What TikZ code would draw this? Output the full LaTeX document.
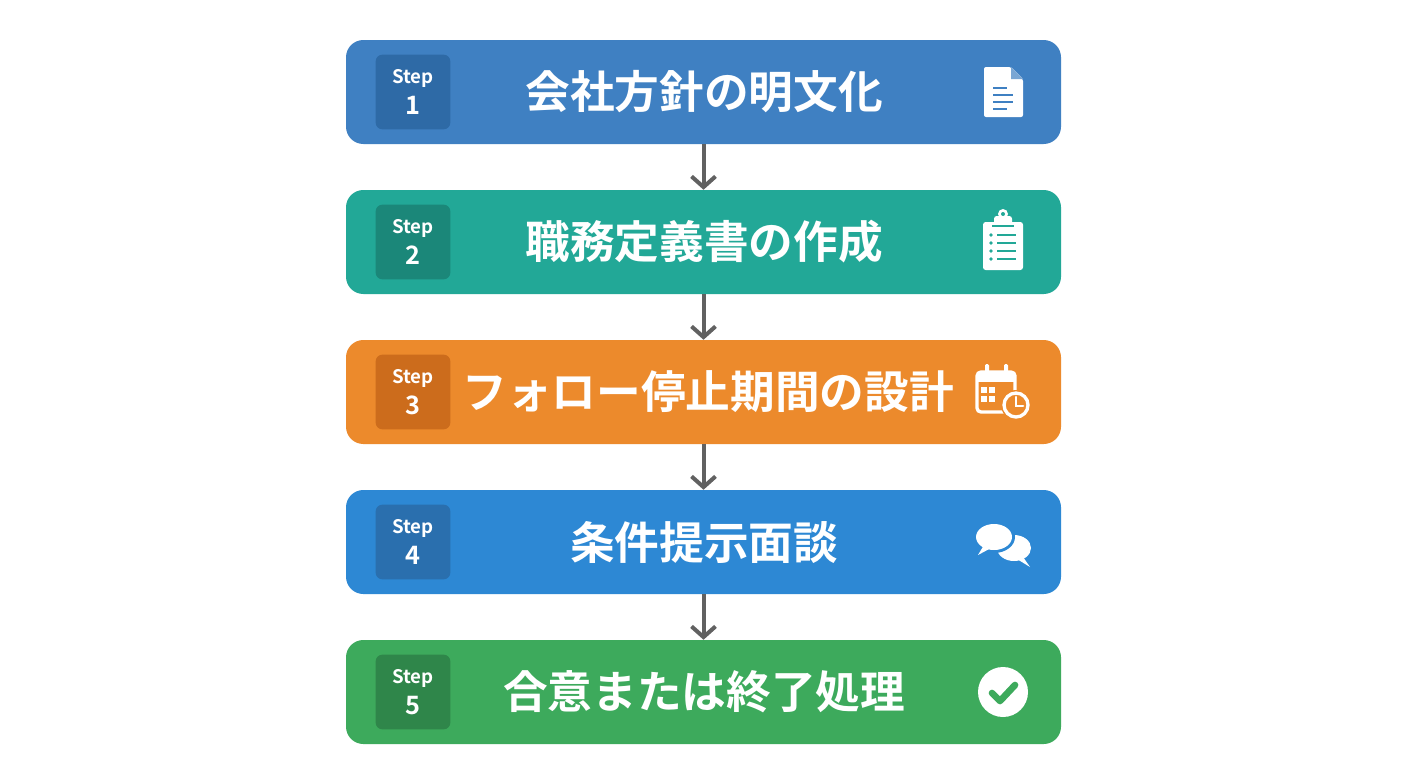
\documentclass[tikz,border=0pt]{standalone}
\usepackage{fontspec}
\usetikzlibrary{arrows.meta}
\newfontfamily\jp{Noto Sans CJK JP Bold}
\definecolor{bc1}{HTML}{3F80C2}\definecolor{bd1}{HTML}{2E6AA6}
\definecolor{bc2}{HTML}{22A897}\definecolor{bd2}{HTML}{1B8779}
\definecolor{bc3}{HTML}{EC8A2C}\definecolor{bd3}{HTML}{CC6C1C}
\definecolor{bc4}{HTML}{2D88D4}\definecolor{bd4}{HTML}{2A6FAE}
\definecolor{bc5}{HTML}{3DAA5C}\definecolor{bd5}{HTML}{2F864A}
\begin{document}
\begin{tikzpicture}[x=0.75pt,y=-0.75pt,
  box/.style={rounded corners=13pt,minimum width=536.25pt,minimum height=78pt,inner sep=0pt},
  badge/.style={rounded corners=5pt,minimum width=56pt,minimum height=56pt,inner sep=0pt,align=center,text=white,font=\jp},
  title/.style={text=white,font=\jp\fontsize{33.5}{36}\selectfont},
  arr/.style={draw=black!62,line width=3pt,-{Straight Barb[length=8pt,width=18pt,line width=3pt]}}]
\useasboundingbox (0,0) rectangle (1408,768);
\fill[white] (0,0) rectangle (1408,768);
\def\steps{1/92/会社方針の明文化/704,2/242/職務定義書の作成/704,3/392/フォロー停止期間の設計/708,4/542/条件提示面談/704,5/692/合意または終了処理/704}
\foreach \n/\cy/\t/\tx in \steps {
  \node[box,fill=bc\n] (b\n) at (703.5,\cy) {};
  \node[badge,fill=bd\n] (s\n) at (413,\cy) {{\fontsize{14}{16}\selectfont Step}\\[5pt]{\fontsize{19}{20}\selectfont \n}};
  \node[title] (t\n) at (\tx,\cy) {\t};
}
\foreach \a/\b in {1/2,2/3,3/4,4/5} \draw[arr] (b\a.south) -- (b\b.north);
% icon 1 document
\begin{scope}[shift={(1003,92)}]
\fill[white,rounded corners=1.5pt] (-19,-25) -- (8,-25) -- (20,-13) -- (20,25) -- (-19,25) -- cycle;
\fill[bc1!70!white] (8,-25) -- (8,-13) -- (20,-13) -- cycle;
\foreach \yy/\xx in {-4/4,3/10,10/10,17/4} \draw[bc1,line width=2pt] (-10,\yy) -- (\xx,\yy);
\end{scope}
% icon 2 clipboard
\begin{scope}[shift={(1003,244)}]
\fill[white,rounded corners=2pt] (-20,-22) rectangle (20,26);
\fill[white,rounded corners=2pt] (-9,-28) rectangle (9,-18);
\fill[white] (0,-30) circle (5);
\fill[bc2] (0,-30) circle (2);
\draw[bc2,line width=1.5pt] (-11,-18) -- (11,-18);
\foreach \yy in {-9,-1,7,15} {\fill[bc2] (-12,\yy) circle (1.8); \draw[bc2,line width=2pt] (-6,\yy) -- (13,\yy);}
\end{scope}
% icon 3 calendar clock
\begin{scope}[shift={(1001,392)}]
\draw[white,line width=2.5pt,rounded corners=3pt] (-24,-20) rectangle (14,20);
\fill[white] (-24,-20) rectangle (14,-10);
\fill[white,rounded corners=1pt] (-16,-28) rectangle (-12,-15);
\fill[white,rounded corners=1pt] (3,-28) rectangle (7,-15);
\foreach \xx in {-17,-9} \foreach \yy in {-2,7} \fill[white] (\xx-3,\yy-3) rectangle (\xx+3,\yy+3);
\fill[bc3] (15,13) circle (15);
\draw[white,line width=2.5pt] (15,13) circle (12);
\draw[white,line width=2.2pt,line cap=round] (15,5) -- (15,14) -- (22,14);
\end{scope}
% icon 4 chat
\begin{scope}[shift={(1003,542)}]
\fill[white] (11,6) ellipse (17 and 13);
\fill[white] (20,15) -- (27,25) -- (14,17) -- cycle;
\fill[bc4] (-9,-5) ellipse (21 and 16);
\fill[white] (-9,-5) ellipse (18 and 13);
\fill[white] (-19,3) -- (-25,13) -- (-12,6) -- cycle;
\end{scope}
% icon 5 check
\begin{scope}[shift={(1003,692)}]
\fill[white] (0,0) circle (25);
\draw[bc5,line width=5pt,line cap=round,line join=round] (-11,1) -- (-3,9) -- (12,-7);
\end{scope}
\end{tikzpicture}
\end{document}
